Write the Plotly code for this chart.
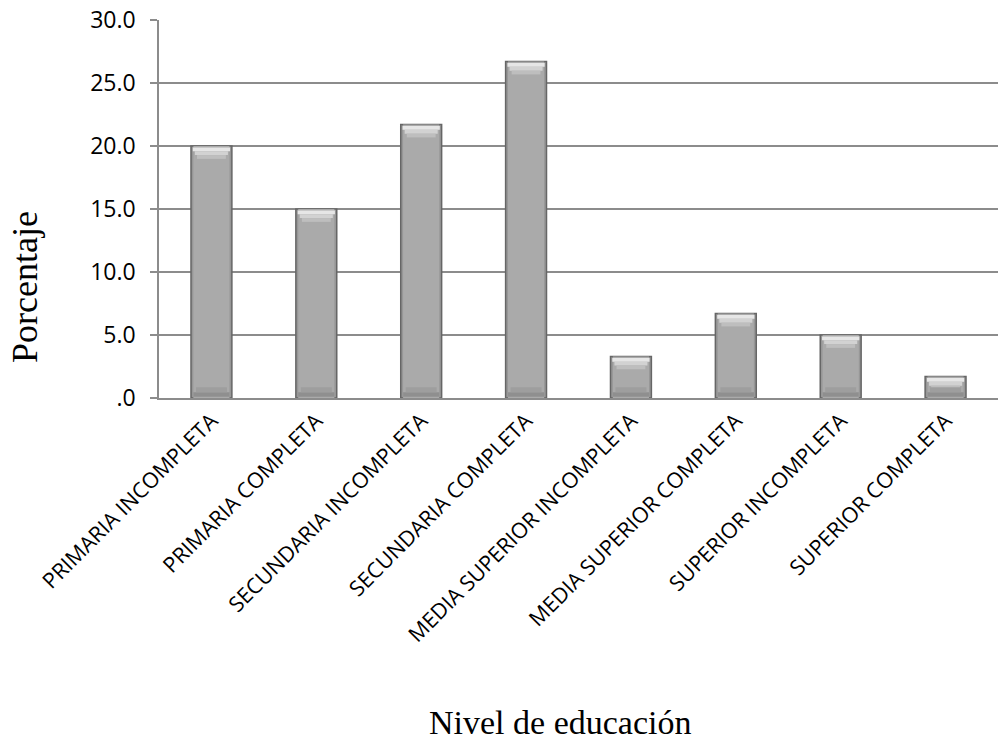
import plotly.graph_objects as go

# Distribución por nivel de educación (porcentaje)
categorias = [
    "PRIMARIA INCOMPLETA",
    "PRIMARIA COMPLETA",
    "SECUNDARIA INCOMPLETA",
    "SECUNDARIA COMPLETA",
    "MEDIA SUPERIOR INCOMPLETA",
    "MEDIA SUPERIOR COMPLETA",
    "SUPERIOR INCOMPLETA",
    "SUPERIOR COMPLETA",
]
porcentajes = [20.0, 15.0, 21.7, 26.7, 3.3, 6.7, 5.0, 1.7]

y_ticks = [0, 5, 10, 15, 20, 25, 30]
y_tick_text = [".0", "5.0", "10.0", "15.0", "20.0", "25.0", "30.0"]

W, H = 998, 749
L, R, T, B = 159, 0, 20, 351
n = len(porcentajes)

fig = go.Figure()

# outer bar (dark edges and outline)
fig.add_trace(go.Bar(
    x=categorias, y=porcentajes,
    marker=dict(color="#979797", line=dict(color="#666666", width=1.5)),
    width=0.39, hoverinfo="x+y",
))
# inner face of the bar
fig.add_trace(go.Bar(
    x=categorias, y=porcentajes,
    marker=dict(color="#aaaaaa", line=dict(width=0)),
    width=0.345, hoverinfo="skip",
))

# bevel highlight at the top: stacked steps, lighter and wider near the edge
top_steps = [(0.12, 0.30, "#e6e6e6", 0.355),
             (0.42, 0.30, "#d2d2d2", 0.315),
             (0.72, 0.30, "#bebebe", 0.275)]
for off, h, col, w in top_steps:
    fig.add_trace(go.Bar(
        x=categorias, y=[h] * n,
        base=[v - off - h for v in porcentajes],
        marker=dict(color=col, line=dict(width=0)),
        width=w, hoverinfo="skip",
    ))

# bevel shade at the bottom
bottom_steps = [(0.10, 0.35, "#8f8f8f", 0.345),
                (0.45, 0.40, "#9e9e9e", 0.295)]
for base, h, col, w in bottom_steps:
    fig.add_trace(go.Bar(
        x=categorias, y=[h] * n,
        base=[base] * n,
        marker=dict(color=col, line=dict(width=0)),
        width=w, hoverinfo="skip",
    ))

fig.update_layout(
    width=W, height=H,
    margin=dict(l=L, r=R, t=T, b=B),
    paper_bgcolor="white", plot_bgcolor="white",
    showlegend=False, barmode="overlay",
    font=dict(family="Open Sans", color="black"),
    xaxis=dict(
        showline=True, linecolor="#8c8c8c", linewidth=1.5,
        showgrid=False, ticks="", tickangle=-45,
        tickfont=dict(size=21.5, family="Open Sans"),
    ),
    yaxis=dict(
        range=[0, 30], tickvals=y_ticks, ticktext=y_tick_text,
        showline=True, linecolor="#8c8c8c", linewidth=1.5,
        showgrid=True, gridcolor="#8c8c8c", gridwidth=1.5,
        ticks="outside", ticklen=7, tickcolor="#8c8c8c", tickwidth=1.5,
        ticklabelstandoff=10,
        tickfont=dict(size=23, family="Open Sans"),
        zeroline=False,
    ),
    annotations=[
        dict(text="Nivel de educación", xref="paper", yref="paper",
             x=(560 - L) / (W - L - R), y=-(722 - (H - B)) / (H - T - B),
             showarrow=False, xanchor="center", yanchor="middle",
             font=dict(family="Liberation Serif", size=34)),
        dict(text="Porcentaje", xref="paper", yref="paper",
             x=-(L - 25) / (W - L - R), y=1 - (287 - T) / (H - T - B),
             showarrow=False, textangle=-90, xanchor="center", yanchor="middle",
             font=dict(family="Liberation Serif", size=36)),
    ],
)

fig.write_html("out.html")
